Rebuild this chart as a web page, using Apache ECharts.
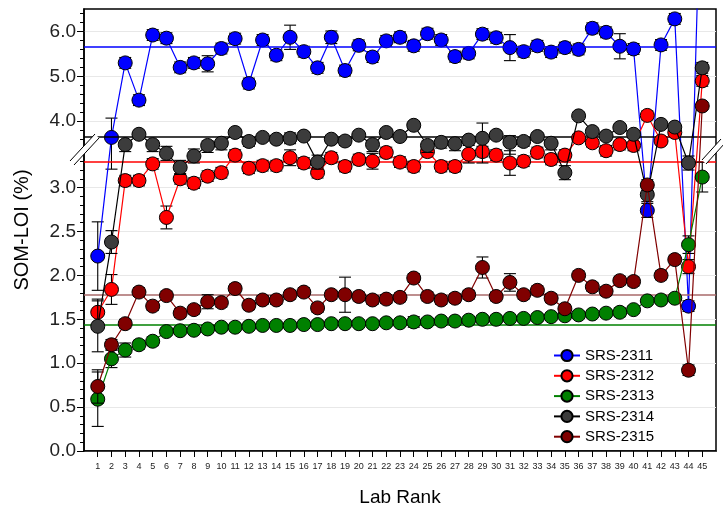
<!DOCTYPE html>
<html><head><meta charset="utf-8">
<script src="https://cdn.jsdelivr.net/npm/echarts@6/dist/echarts.min.js"></script>
<style>html,body{margin:0;padding:0;background:#fff}#c{width:723px;height:508px}</style>
</head><body><div id="c"></div>
<script>
const labs = [1,2,3,4,5,6,7,8,9,10,11,12,13,14,15,16,17,18,19,20,21,22,23,24,25,26,27,28,29,30,31,32,33,34,35,36,37,38,39,40,41,42,43,44,45];
const seriesNames = ['SRS-2311','SRS-2312','SRS-2313','SRS-2314','SRS-2315'];
const srs2311 = [2.22,3.64,5.30,4.47,5.92,5.85,5.20,5.30,5.28,5.62,5.84,4.84,5.81,5.47,5.87,5.55,5.19,5.87,5.13,5.69,5.43,5.79,5.87,5.68,5.95,5.81,5.44,5.51,5.94,5.86,5.64,5.55,5.68,5.54,5.64,5.60,6.07,5.98,5.67,5.61,2.74,5.70,6.28,1.65,10.5];
const err2311 = [0.39,0.43,0.12,0.12,0.12,0.12,0.12,0.12,0.18,0.12,0.12,0.12,0.12,0.12,0.27,0.12,0.12,0.14,0.12,0.12,0.12,0.12,0.12,0.12,0.12,0.12,0.12,0.12,0.12,0.12,0.29,0.12,0.12,0.12,0.12,0.12,0.12,0.12,0.28,0.12,0.08,0.12,0.12,0.06,0.12];
const srs2312 = [1.58,1.84,3.08,3.08,3.27,2.66,3.10,3.05,3.13,3.17,3.37,3.22,3.25,3.25,3.34,3.28,3.17,3.34,3.24,3.32,3.30,3.40,3.29,3.24,3.41,3.24,3.24,3.38,3.41,3.37,3.28,3.30,3.40,3.32,3.37,3.63,3.52,3.42,3.49,3.48,4.13,3.56,3.75,2.10,4.90];
const err2312 = [0.15,0.17,0.06,0.06,0.06,0.13,0.06,0.06,0.06,0.06,0.06,0.06,0.06,0.06,0.09,0.06,0.06,0.06,0.06,0.06,0.09,0.06,0.06,0.06,0.06,0.06,0.06,0.10,0.06,0.06,0.14,0.06,0.06,0.06,0.06,0.06,0.06,0.06,0.06,0.06,0.10,0.06,0.06,0.08,0.12];
const srs2313 = [0.59,1.05,1.15,1.21,1.25,1.36,1.37,1.375,1.39,1.41,1.41,1.42,1.43,1.43,1.43,1.44,1.44,1.45,1.45,1.45,1.45,1.46,1.46,1.47,1.47,1.48,1.48,1.49,1.50,1.50,1.51,1.51,1.52,1.53,1.54,1.55,1.56,1.57,1.58,1.61,1.71,1.72,1.74,2.35,3.12];
const err2313 = [0.31,0.10,0.08,0.05,0.05,0.04,0.04,0.04,0.04,0.04,0.04,0.04,0.04,0.04,0.04,0.04,0.04,0.04,0.04,0.04,0.04,0.04,0.04,0.06,0.04,0.04,0.04,0.04,0.04,0.04,0.04,0.04,0.04,0.04,0.04,0.04,0.04,0.04,0.05,0.04,0.04,0.04,0.04,0.10,0.17];
const srs2314 = [1.42,2.38,3.49,3.71,3.49,3.39,3.23,3.36,3.48,3.51,3.75,3.55,3.64,3.60,3.62,3.67,3.29,3.60,3.56,3.69,3.49,3.75,3.66,3.91,3.48,3.53,3.50,3.58,3.62,3.69,3.53,3.55,3.66,3.51,3.17,4.12,3.77,3.67,3.86,3.71,2.92,3.93,3.87,3.28,5.19];
const err2314 = [0.29,0.13,0.08,0.08,0.08,0.08,0.08,0.08,0.08,0.08,0.08,0.08,0.08,0.08,0.12,0.08,0.08,0.08,0.08,0.08,0.08,0.08,0.08,0.08,0.08,0.08,0.08,0.08,0.34,0.08,0.15,0.08,0.08,0.08,0.08,0.08,0.08,0.08,0.08,0.08,0.08,0.08,0.08,0.08,0.12];
const srs2315 = [0.735,1.21,1.45,1.81,1.65,1.77,1.57,1.61,1.70,1.69,1.85,1.66,1.72,1.72,1.78,1.81,1.63,1.78,1.78,1.76,1.72,1.73,1.75,1.97,1.76,1.72,1.74,1.78,2.09,1.76,1.92,1.78,1.83,1.74,1.62,2.00,1.87,1.82,1.94,1.93,3.03,2.00,2.18,0.92,4.34];
const err2315 = [0.19,0.06,0.05,0.05,0.05,0.05,0.05,0.05,0.08,0.05,0.05,0.05,0.05,0.05,0.05,0.05,0.05,0.05,0.20,0.05,0.05,0.05,0.05,0.05,0.05,0.05,0.05,0.05,0.12,0.05,0.10,0.05,0.05,0.05,0.05,0.05,0.05,0.05,0.05,0.05,0.06,0.05,0.05,0.06,0.08];
const means = [5.65, 3.29, 1.435, 3.65, 1.785];
const yMajorTicks = [0,0.5,1.0,1.5,2.0,2.5,3.0,4.0,5.0,6.0];
const yMin = 0, yMax = 6.5, yBreak = 3.5;

// piecewise-linear scale of the original figure: upper part compressed
const R = 45/88;
const T = v => v <= yBreak ? v : yBreak + (v - yBreak) * R;
const Tinv = t => t <= yBreak ? t : yBreak + (t - yBreak) / R;

const vals = [srs2311, srs2312, srs2313, srs2314, srs2315];
const errs = [err2311, err2312, err2313, err2314, err2315];
const fills = ['#0000ff','#ff0000','#008000','#3c3c3c','#800000'];
const lineCols = ['#0000ff','#ff0000','#008000','#000000','#800000'];
const meanCols = ['#0000ff','#ff0000','#008000','#000000','#a86a6a'];

const minorTicks = [];
for (let i = 1; i <= 34; i++) { const v = i/10; if (i % 5) minorTicks.push(T(v)); }
for (let i = 18; i <= 32; i++) { const v = i/5; if (v % 1 !== 0) minorTicks.push(T(v)); }

const FONT = "'Liberation Sans', Arial, Helvetica, sans-serif";
const series = [];
vals.forEach((arr, k) => {
  series.push({
    type: 'custom', name: seriesNames[k] + ' err', z: 3 + k*2, clip: true,
    renderItem: (params, api) => {
      const x = api.value(0);
      const p1 = api.coord([x, api.value(1)]), p2 = api.coord([x, api.value(2)]);
      const w = 6, st = {stroke: '#000', lineWidth: 1.1};
      return {type: 'group', children: [
        {type: 'line', shape: {x1: p1[0], y1: p1[1], x2: p2[0], y2: p2[1]}, style: st},
        {type: 'line', shape: {x1: p1[0]-w, y1: p1[1], x2: p1[0]+w, y2: p1[1]}, style: st},
        {type: 'line', shape: {x1: p2[0]-w, y1: p2[1], x2: p2[0]+w, y2: p2[1]}, style: st}
      ]};
    },
    data: labs.map((l, i) => [l, T(arr[i] - errs[k][i]), T(arr[i] + errs[k][i])])
  });
  series.push({
    type: 'line', name: seriesNames[k], z: 4 + k*2, clip: true,
    symbol: 'circle', symbolSize: 14,
    itemStyle: {color: fills[k], borderColor: '#000', borderWidth: 1},
    lineStyle: {color: lineCols[k], width: 1.2},
    emphasis: {disabled: true},
    data: labs.map((l, i) => [l, T(arr[i])])
  });
});
series.push({
  type: 'line', name: 'means', z: 2, data: [], silent: true,
  markLine: {silent: true, symbol: 'none', label: {show: false}, animation: false,
    data: means.map((m, k) => ({yAxis: T(m), lineStyle: {color: meanCols[k], width: 1.5, type: 'solid'}}))}
});

const chart = echarts.init(document.getElementById('c'), null, {renderer: 'canvas'});
chart.setOption({
  animation: false,
  backgroundColor: '#fff',
  textStyle: {fontFamily: FONT},
  grid: {left: 84, right: 7, top: 9, bottom: 57, show: true, borderColor: '#000', borderWidth: 1.5, backgroundColor: 'transparent', containLabel: false, outerBoundsMode: 'none'},
  xAxis: {
    type: 'value', min: 0, max: 46,
    name: 'Lab Rank', nameLocation: 'middle', nameGap: 37,
    nameTextStyle: {fontSize: 19, color: '#000', fontFamily: FONT},
    axisLine: {show: true, lineStyle: {color: '#000', width: 1.5}},
    axisTick: {show: true, customValues: labs, length: 6, lineStyle: {color: '#000', width: 1}},
    axisLabel: {show: true, customValues: labs, fontSize: 9, color: '#222', margin: 11, fontFamily: FONT},
    splitLine: {show: false}
  },
  yAxis: [{
    type: 'value', min: T(yMin), max: T(yMax), position: 'left',
    name: 'SOM-LOI (%)', nameLocation: 'middle', nameGap: 52,
    nameTextStyle: {fontSize: 20, color: '#000', fontFamily: FONT},
    axisLine: {show: true, lineStyle: {color: '#000', width: 1.5}},
    axisTick: {show: true, customValues: yMajorTicks.map(T), length: 7, lineStyle: {color: '#000', width: 1}},
    axisLabel: {show: true, customValues: yMajorTicks.map(T), fontSize: 19, color: '#222', margin: 8, fontFamily: FONT,
      formatter: v => Tinv(v).toFixed(1)},
    splitLine: {show: true, lineStyle: {color: '#e8e8e8', width: 1}}
  }, {
    type: 'value', min: T(yMin), max: T(yMax), position: 'left', offset: 0,
    axisLine: {show: false},
    axisTick: {show: true, customValues: minorTicks, length: 4, lineStyle: {color: '#000', width: 1}},
    axisLabel: {show: false},
    splitLine: {show: false}
  }],
  legend: {
    orient: 'vertical', left: 548, top: 343, itemGap: 5.3, itemWidth: 26, itemHeight: 14,
    data: seriesNames, textStyle: {fontSize: 15, color: '#000', fontFamily: FONT},
    backgroundColor: 'transparent', selectedMode: false
  },
  series: series,
  graphic: [
    {type: 'polygon', z: 100, shape: {points: [[70,161],[95,134],[99,138],[74,165]]}, style: {fill: '#fff'}},
    {type: 'line', z: 101, shape: {x1: 70, y1: 161, x2: 95, y2: 134}, style: {stroke: '#000', lineWidth: 1}},
    {type: 'line', z: 101, shape: {x1: 74, y1: 165, x2: 99, y2: 138}, style: {stroke: '#000', lineWidth: 1}},
    {type: 'polygon', z: 100, shape: {points: [[702,160],[721,139],[725,143],[706,164]]}, style: {fill: '#fff'}},
    {type: 'line', z: 101, shape: {x1: 702, y1: 160, x2: 721, y2: 139}, style: {stroke: '#000', lineWidth: 1}},
    {type: 'line', z: 101, shape: {x1: 706, y1: 164, x2: 725, y2: 143}, style: {stroke: '#000', lineWidth: 1}}
  ]
});
</script></body></html>
